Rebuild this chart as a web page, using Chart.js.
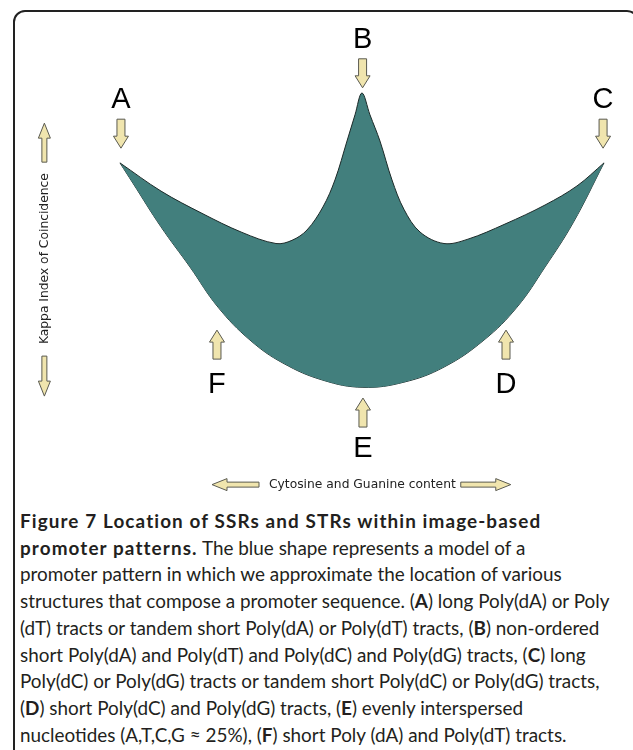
<!DOCTYPE html>
<html><head><meta charset="utf-8">
<script src="https://cdn.jsdelivr.net/npm/chart.js@4.4.1/dist/chart.umd.min.js"></script>
<style>
html,body{margin:0;padding:0;background:#fff;width:633px;height:750px;overflow:hidden;position:relative;}
#frame{position:absolute;left:13px;top:10px;width:626px;height:800px;border:2px solid #222;border-radius:12px;box-sizing:border-box;}
#wrap{position:absolute;left:0;top:0;width:633px;height:500px;}
#caption{position:absolute;left:20px;top:508px;font-family:Lato,"Open Sans",sans-serif;font-size:18.9px;line-height:26.7px;color:#231f20;white-space:nowrap;}
#caption b{font-weight:700;}
#caption b.t{letter-spacing:1.1px;}
</style></head><body>
<div id="frame"></div>
<div id="wrap"><canvas id="c"></canvas></div>
<div id="caption"><b class="t">Figure 7 Location of SSRs and STRs within image-based<br>promoter patterns.</b> The blue shape represents a model of a<br>promoter pattern in which we approximate the location of various<br>structures that compose a promoter sequence. (<b>A</b>) long Poly(dA) or Poly<br>(dT) tracts or tandem short Poly(dA) or Poly(dT) tracts, (<b>B</b>) non-ordered<br>short Poly(dA) and Poly(dT) and Poly(dC) and Poly(dG) tracts, (<b>C</b>) long<br>Poly(dC) or Poly(dG) tracts or tandem short Poly(dC) or Poly(dG) tracts,<br>(<b>D</b>) short Poly(dC) and Poly(dG) tracts, (<b>E</b>) evenly interspersed<br>nucleotides (A,T,C,G ≈ 25%), (<b>F</b>) short Poly (dA) and Poly(dT) tracts.</div>
<script>
// Axis titles
const xTitle = 'Cytosine and Guanine content';
const yTitle = 'Kappa Index of Coincidence';

// Upper outline of the promoter pattern (A -> B -> C), GC content vs Kappa index
const upperX = [3.67, 11.51, 19.34, 26.99, 33.49, 36.54, 39.41, 42.46, 44.76, 47.06, 48.59, 49.92, 51.45, 53.36, 55.66, 57.95, 61.01, 65.60, 70.18, 77.26, 84.91, 91.02, 96.18];
const upperY = [0.741, 0.670, 0.614, 0.566, 0.538, 0.546, 0.572, 0.630, 0.698, 0.796, 0.862, 0.917, 0.862, 0.796, 0.698, 0.624, 0.567, 0.538, 0.549, 0.587, 0.635, 0.683, 0.741];

// Lower outline (A -> F -> E -> D -> C)
const lowerX = [3.67, 6.15, 11.51, 17.05, 22.40, 28.52, 34.83, 42.46, 50.11, 57.95, 65.60, 73.24, 79.56, 84.91, 90.26, 96.18];
const lowerY = [0.741, 0.690, 0.580, 0.479, 0.378, 0.295, 0.237, 0.194, 0.176, 0.189, 0.227, 0.295, 0.378, 0.479, 0.590, 0.741];

// Location markers
const markerLabels = ['A', 'B', 'C', 'D', 'E', 'F'];
const markerX = [3.86, 50.04, 96.0, 77.45, 50.11, 22.21];
const markerLabelY = [0.879, 1.030, 0.879, 0.162, 0.0, 0.162];
const markerArrowY = [0.778, 0.930, 0.778, 0.320, 0.149, 0.320];
const markerDir = ['down', 'down', 'down', 'up', 'up', 'up'];

const ARROW_FILL = '#f0e5ae';
const ARROW_STROKE = '#5a5a50';

function drawArrow(ctx, tx, ty, hx, hy, shaftHalf, headHalf, headLen) {
  // tail (tx,ty) -> tip (hx,hy)
  const dx = hx - tx, dy = hy - ty;
  const len = Math.hypot(dx, dy);
  const ux = dx / len, uy = dy / len;
  const px = -uy, py = ux;
  const bx = hx - ux * headLen, by = hy - uy * headLen;
  ctx.beginPath();
  ctx.moveTo(tx + px * shaftHalf, ty + py * shaftHalf);
  ctx.lineTo(bx + px * shaftHalf, by + py * shaftHalf);
  ctx.lineTo(bx + px * headHalf, by + py * headHalf);
  ctx.lineTo(hx, hy);
  ctx.lineTo(bx - px * headHalf, by - py * headHalf);
  ctx.lineTo(bx - px * shaftHalf, by - py * shaftHalf);
  ctx.lineTo(tx - px * shaftHalf, ty - py * shaftHalf);
  ctx.closePath();
  ctx.fillStyle = ARROW_FILL;
  ctx.fill();
  ctx.lineWidth = 1;
  ctx.strokeStyle = ARROW_STROKE;
  ctx.stroke();
}

const markerPlugin = {
  id: 'markers',
  afterDraw(chart) {
    const ctx = chart.ctx;
    const xs = chart.scales.x, ys = chart.scales.y;
    ctx.save();
    // location markers
    markerLabels.forEach((lab, i) => {
      const x = xs.getPixelForValue(markerX[i]);
      const ly = ys.getPixelForValue(markerLabelY[i]);
      ctx.font = '29px "Liberation Sans", Arial, sans-serif';
      ctx.fillStyle = '#000';
      ctx.textAlign = 'center';
      ctx.textBaseline = 'alphabetic';
      ctx.fillText(lab, x, ly);
      const tipY = ys.getPixelForValue(markerArrowY[i]);
      const L = 29;
      const tailY = markerDir[i] === 'down' ? tipY - L : tipY + L;
      drawArrow(ctx, x, tailY, x, tipY, 4, 7.5, 12);
    });
    // axis arrows around the titles
    const xt = xs.options.title;
    const xf = Chart.helpers.toFont(xt.font);
    ctx.font = xf.string;
    const xw = ctx.measureText(xTitle).width;
    const xcx = (xs.left + xs.right) / 2;
    const xcy = xs.bottom - (xf.lineHeight / 2 + xt.padding.bottom);
    drawArrow(ctx, xcx - xw / 2 - 10, xcy, xcx - xw / 2 - 57, xcy, 2.5, 6, 15);
    drawArrow(ctx, xcx + xw / 2 + 5, xcy, xcx + xw / 2 + 55, xcy, 2.5, 6, 15);
    const yt = ys.options.title;
    const yf = Chart.helpers.toFont(yt.font);
    ctx.font = yf.string;
    const yw = ctx.measureText(yTitle).width;
    const ycx = ys.left + yf.lineHeight / 2 + yt.padding.top;
    const ycy = (ys.top + ys.bottom) / 2;
    drawArrow(ctx, ycx, ycy - yw / 2 - 11, ycx, ycy - yw / 2 - 50, 2.5, 6, 15);
    drawArrow(ctx, ycx, ycy + yw / 2 + 12, ycx, ycy + yw / 2 + 52, 2.5, 6, 15);
    ctx.restore();
  }
};

const toPts = (xa, ya) => xa.map((x, i) => ({x, y: ya[i]}));

new Chart(document.getElementById('c'), {
  type: 'line',
  data: {
    datasets: [
      {
        label: 'upper',
        data: toPts(upperX, upperY),
        borderColor: '#1c2a29',
        borderWidth: 1,
        backgroundColor: '#427f7d',
        fill: '+1',
        tension: 0.35,
        pointRadius: 0,
        clip: false
      },
      {
        label: 'lower',
        data: toPts(lowerX, lowerY),
        borderColor: '#1c2a29',
        borderWidth: 1,
        backgroundColor: '#427f7d',
        fill: false,
        tension: 0.4,
        pointRadius: 0,
        clip: false
      }
    ]
  },
  options: {
    responsive: true,
    maintainAspectRatio: false,
    animation: false,
    events: [],
    layout: {padding: {left: 30, right: 9, top: 60, bottom: 4}},
    plugins: {legend: {display: false}, tooltip: {enabled: false}},
    scales: {
      x: {
        type: 'linear', min: 0, max: 100,
        ticks: {display: false},
        grid: {display: false, drawTicks: false},
        border: {display: false},
        title: {display: true, text: xTitle, color: '#222', font: {family: 'DejaVu Sans', size: 12.3}, padding: {top: 20, bottom: 4}}
      },
      y: {
        type: 'linear', min: 0, max: 1,
        ticks: {display: false},
        grid: {display: false, drawTicks: false},
        border: {display: false},
        title: {display: true, text: yTitle, color: '#222', font: {family: 'DejaVu Sans', size: 12.3}, padding: {top: 7, bottom: 49}}
      }
    }
  },
  plugins: [markerPlugin]
});
</script>
</body></html>
